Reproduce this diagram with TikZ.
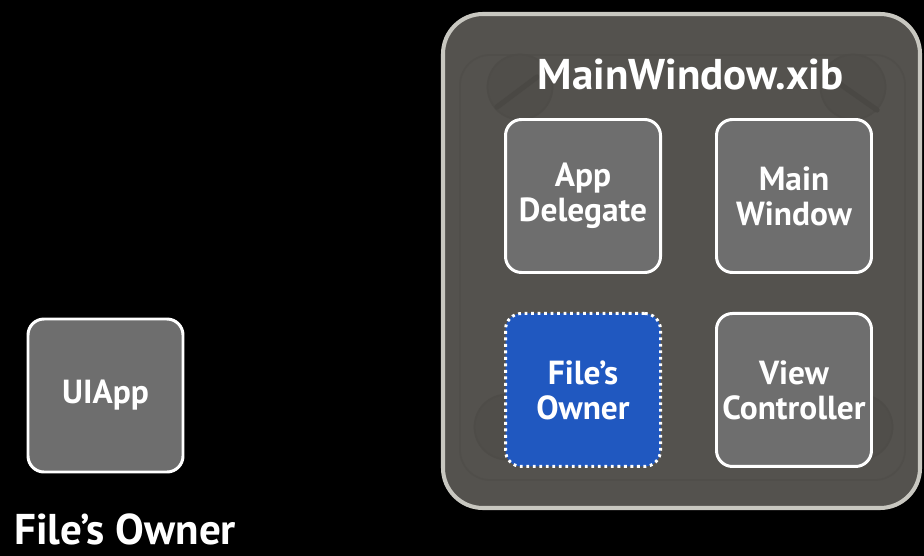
\documentclass[tikz,border=0pt]{standalone}
\usepackage{fontspec}
\setmainfont{PT Sans}
\usepackage{tikz}
\usetikzlibrary{positioning}
\definecolor{nbblack}{RGB}{0,0,0}
\definecolor{nbframe}{RGB}{200,199,192}
\definecolor{nbpanel}{RGB}{84,82,78}
\definecolor{nbfaint}{RGB}{80,78,74}
\definecolor{nbslot}{RGB}{74,72,68}
\definecolor{nbgrey}{RGB}{110,110,110}
\definecolor{nbblue}{RGB}{32,88,192}
\tikzstyle{xibframe} = [rectangle, rounded corners=0.8cm, minimum width=9.54cm, minimum height=9.88cm, draw=nbframe, fill=nbpanel, line width=2.3pt]
\tikzstyle{screw} = [circle, minimum size=1.3cm, draw=nbslot!60!nbpanel, fill=nbfaint, line width=1pt]
\tikzstyle{objbox} = [rectangle, rounded corners=0.32cm, minimum width=3.1cm, minimum height=3.06cm, text centered, align=center, draw=white, fill=nbgrey, line width=1.7pt, text=white, font=\fontsize{19}{20}\selectfont\bfseries]
\tikzstyle{ownerbox} = [objbox, fill=nbblue, dash pattern=on 1.6pt off 2.1pt]

\begin{document}
\begin{tikzpicture}[node distance=0.3cm]
\fill[nbblack] (0,0) rectangle (18.48,-11.12);
\useasboundingbox (0,0) rectangle (18.48,-11.12);

% nib panel
\node[xibframe] (xib) at (13.63,-5.22) {};
\draw[nbfaint, line width=1pt, rounded corners=0.6cm] (9.2,-1.1) rectangle (18.1,-9.6);
\node[screw] (screwA) at (10.4,-1.74) {};
\node[screw] (screwB) at (17.06,-1.74) {};
\node[screw] (screwC) at (10.14,-8.54) {};
\node[screw] (screwD) at (17.2,-8.54) {};
\draw[nbslot, line width=3pt, line cap=round] (9.94,-2.14) -- (10.74,-1.54);
\draw[nbslot, line width=3pt, line cap=round] (16.6,-1.54) -- (17.54,-2.2);
\node[text=white, font=\fontsize{24.5}{26}\selectfont\bfseries] (title) at (13.81,-1.48) {MainWindow.xib};

% objects in the nib
\node[objbox] (delegate) at (11.66,-3.92) {App\\Delegate};
\node[objbox, right=1.06cm of delegate] (window) {Main\\Window};
\node[ownerbox, below=0.76cm of delegate] (owner) {File’s\\Owner};
\node[objbox, below=0.76cm of window] (viewctl) {View\\Controller};

% the real owner
\node[objbox] (uiapp) at (2.11,-7.91) {UIApp};
\node[anchor=base west, inner sep=0pt, text=white, font=\fontsize{24.5}{26}\selectfont\bfseries] (ownerlabel) at (0.28,-10.88) {File’s Owner};
\end{tikzpicture}
\end{document}
